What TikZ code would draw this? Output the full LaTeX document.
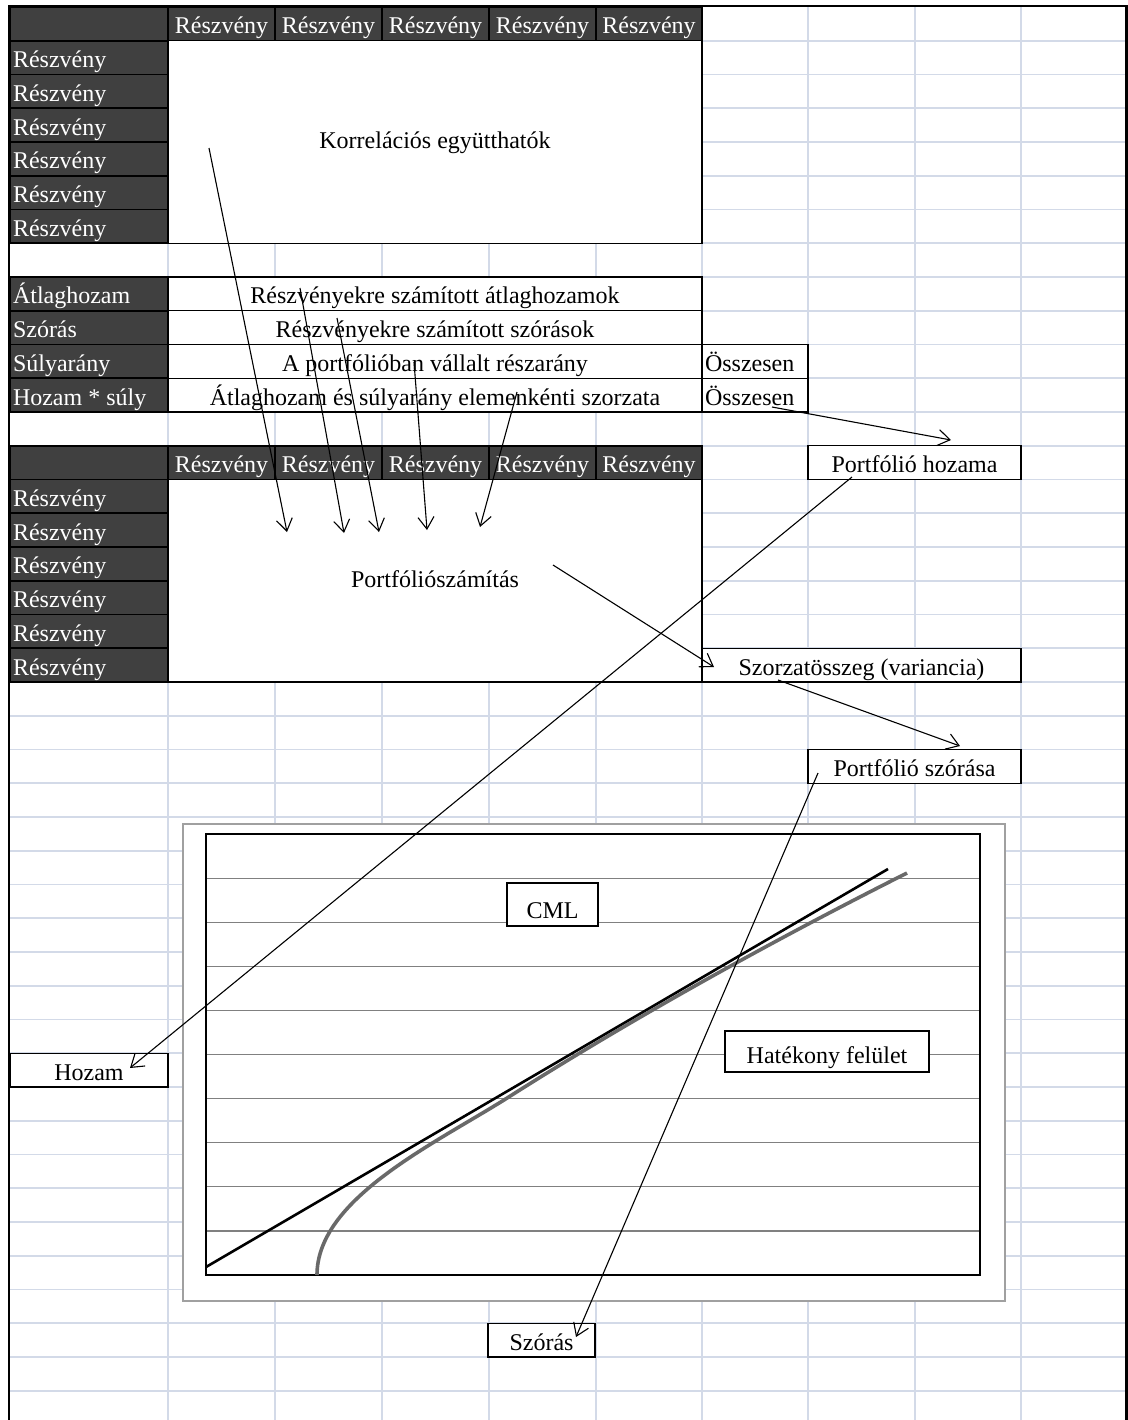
\documentclass[tikz,border=0pt]{standalone}
\usepackage{fontspec}
\setmainfont{Liberation Serif}
\usetikzlibrary{arrows.meta}
\definecolor{gridc}{RGB}{211,218,232}
\definecolor{darkc}{RGB}{64,64,64}
\definecolor{chartb}{RGB}{160,160,160}
\definecolor{plotg}{RGB}{128,128,128}
\definecolor{curvec}{RGB}{105,105,105}
\begin{document}
\begin{tikzpicture}[x=0.5pt,y=-0.5pt,
  font=\fontsize{12pt}{14pt}\selectfont,
  every node/.style={inner sep=0pt,outer sep=0pt},
  darkcell/.style={fill=darkc,draw=black,line width=0.8pt},
  wcell/.style={fill=white,draw=black,line width=0.7pt},
  wtxt/.style={text=white,anchor=base west},
  htxt/.style={text=white,anchor=base},
  btxt/.style={text=black,anchor=base},
  ltxt/.style={text=black,anchor=base west},
  gline/.style={draw=gridc,line width=0.8pt},
  pgrid/.style={draw=plotg,line width=0.6pt},
  conn/.style={draw=black,line width=0.55pt,-{Straight Barb[length=6pt,width=8pt]}},
]
\useasboundingbox (0,0) rectangle (1128,1420);
\fill[white] (0,0) rectangle (1128,1420);
% spreadsheet grid
\foreach \c in {168,275,382,489,596,702,808,915,1021}
  \draw[gline] (\c,7) -- (\c,1420);
\foreach \r in {1,...,41}
  \draw[gline] (10,{7+33.75*\r}) -- (1126,{7+33.75*\r});

% ---------- table 1 ----------
\draw[darkcell] (10,7) rectangle (168,40.75);
\foreach \x/\xx [count=\k] in {168/275,275/382,382/489,489/596,596/702}{
  \draw[darkcell] (\x,7) rectangle (\xx,40.75);
  \node[htxt] (ha\k) at ({(\x+\xx)/2},33.75) {Részvény};
}
\foreach \i in {1,...,6}{
  \draw[darkcell] (10,{7+33.75*\i}) rectangle (168,{7+33.75*(\i+1)});
  \node[wtxt] (ra\i) at (13,{33.75*(\i+1)}) {Részvény};
}
\draw[wcell] (168,40.75) rectangle (702,243.5);
\node[btxt] (korr) at (435,148) {Korrelációs együtthatók};

% ---------- table 2 ----------
\foreach \i in {8,...,11}{
  \draw[darkcell] (10,{7+33.75*\i}) rectangle (168,{7+33.75*(\i+1)});
  \draw[wcell] (168,{7+33.75*\i}) rectangle (702,{7+33.75*(\i+1)});
}
\draw[wcell] (702,344.5) rectangle (808,378.25);
\draw[wcell] (702,378.25) rectangle (808,412);
\node[wtxt] (l9)  at (13,303.75) {Átlaghozam};
\node[wtxt] (l10) at (13,337.5)  {Szórás};
\node[wtxt] (l11) at (13,371.25) {Súlyarány};
\node[wtxt] (l12) at (13,405)    {Hozam * súly};
\node[btxt] (t9)  at (435,303.75) {Részvényekre számított átlaghozamok};
\node[btxt] (t10) at (435,337.5)  {Részvényekre számított szórások};
\node[btxt] (t11) at (435,371.25) {A portfólióban vállalt részarány};
\node[btxt] (t12) at (435,405)    {Átlaghozam és súlyarány elemenkénti szorzata};
\node[ltxt] (ossz1) at (705,371.25) {Összesen};
\node[ltxt] (ossz2) at (705,405)    {Összesen};

% ---------- table 3 ----------
\draw[darkcell] (10,445.75) rectangle (168,479.5);
\foreach \x/\xx [count=\k] in {168/275,275/382,382/489,489/596,596/702}{
  \draw[darkcell] (\x,445.75) rectangle (\xx,479.5);
  \node[htxt] (hb\k) at ({(\x+\xx)/2},472.5) {Részvény};
}
\foreach \i in {14,...,19}{
  \draw[darkcell] (10,{7+33.75*\i}) rectangle (168,{7+33.75*(\i+1)});
  \node[wtxt] (rb\i) at (13,{33.75*(\i+1)}) {Részvény};
}
\draw[wcell] (168,479.5) rectangle (702,682);
\node[btxt] (pszam) at (435,587) {Portfóliószámítás};

% ---------- result boxes ----------
\draw[wcell] (808,445.75) rectangle (1021,479.5);
\node[btxt] (phoz) at (914.5,472.5) {Portfólió hozama};
\draw[wcell] (702,648.25) rectangle (1021,682);
\node[btxt] (szorz) at (861.5,675) {Szorzatösszeg (variancia)};
\draw[wcell] (808,749.5) rectangle (1021,783.25);
\node[btxt] (pszor) at (914.5,776.25) {Portfólió szórása};
\draw[wcell] (10,1053.25) rectangle (168,1087);
\node[btxt] (hozam) at (89,1080) {Hozam};
\draw[wcell] (488,1323.25) rectangle (595,1357);
\node[btxt] (szoras) at (541.5,1350) {Szórás};

% ---------- chart ----------
\draw[chartb,fill=white,line width=1pt] (183,824) rectangle (1005,1301);
\foreach \j in {1,...,9}
  \draw[pgrid] (206,{834+44.1*\j}) -- (980,{834+44.1*\j});
\draw[black,line width=0.9pt] (206,834) rectangle (980,1275);
\draw[black,line width=1.3pt] (206,1267) -- (888,869);
\draw[curvec,line width=1.8pt] (317,1275) .. controls (317,1200) and (430,1146) .. (504,1100)
  .. controls (620,1026) and (760,947) .. (907,873);
\draw[wcell] (507,883) rectangle (598,926);
\node[btxt] (cml) at (552.5,918) {CML};
\draw[wcell] (725,1031) rectangle (929,1072);
\node[btxt] (hatek) at (827,1063) {Hatékony felület};

% ---------- outer frame ----------
\draw[black,line width=1.2pt] (9,1420) -- (9,6) -- (1126.5,6) -- (1126.5,1420);

% ---------- connectors ----------
\coordinate (a1s) at (209,148);  \coordinate (a1e) at (287,532);
\coordinate (a2s) at (300,288);  \coordinate (a2e) at (344,533);
\coordinate (a3s) at (337,318);  \coordinate (a3e) at (379,532);
\coordinate (a4s) at (414,362);  \coordinate (a4e) at (427,530);
\coordinate (a5s) at (517,392);  \coordinate (a5e) at (480,527);
\coordinate (a6s) at (772,407);  \coordinate (a6e) at (951,440);
\coordinate (a7s) at (553,565);  \coordinate (a7e) at (714,667);
\coordinate (a8s) at (778,680);  \coordinate (a8e) at (960,746);
\coordinate (a9s) at (852,477);  \coordinate (a9e) at (130,1068);
\coordinate (a10s) at (818,773); \coordinate (a10e) at (576,1337);
\foreach \n in {1,...,10}
  \draw[conn] (a\n s) -- (a\n e);
\end{tikzpicture}
\end{document}
